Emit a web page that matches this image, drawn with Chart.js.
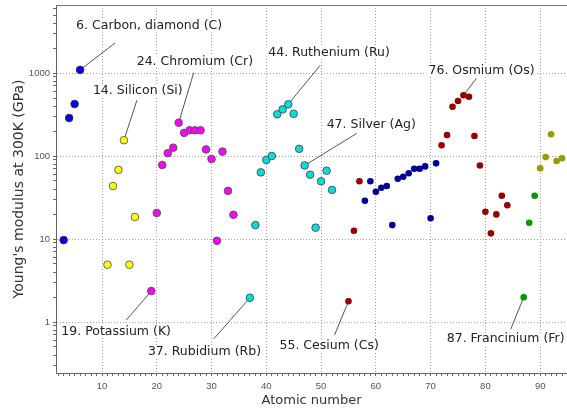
<!DOCTYPE html>
<html>
<head>
<meta charset="utf-8">
<script src="https://cdn.jsdelivr.net/npm/chart.js@4.4.1/dist/chart.umd.min.js"></script>
<style>
  html, body { margin: 0; padding: 0; background: #fff; }
  #wrap { width: 567px; height: 410px; }
</style>
</head>
<body>
<div id="wrap"><canvas id="chart" width="567" height="410"></canvas></div>
<script>
// atomic number (Z) and Young's modulus in GPa, one pair of arrays per colour group
const period2Z = [3, 4, 5, 6];
const period2E = [9.7, 287, 423, 1090];

const period3Z = [11, 12, 13, 14, 15, 16];
const period3E = [4.9, 43.5, 68, 155, 4.9, 18.4];

const period4Z = [19, 20, 21, 22, 23, 24, 25, 26, 27, 28, 29, 30, 31, 32, 33, 34];
const period4E = [2.36, 20.6, 78, 108, 126, 252, 190, 204, 204, 204, 120, 92, 9.5, 113, 38, 19.6];

const period5Z = [37, 38, 39, 40, 41, 42, 43, 44, 45, 46, 47, 48, 49, 50, 51, 52];
const period5E = [1.96, 14.7, 63.5, 89.7, 100, 318, 365, 420, 323, 122, 77, 59.5, 13.7, 49.6, 66.5, 39];

const period6Z = [55, 56, 57, 72, 73, 74, 75, 76, 77, 78, 79, 80, 81, 82, 83, 84];
const period6E = [1.78, 12.6, 49.6, 135, 179, 393, 460, 539, 518, 174, 77, 21.3, 11.7, 19.8, 33.2, 25.5];

const lanthanideZ = [58, 59, 60, 61, 62, 63, 64, 65, 66, 67, 68, 69, 70, 71];
const lanthanideE = [28.9, 49.6, 37, 41.5, 43.5, 14.7, 53.3, 56.3, 61.9, 70.3, 70.3, 75, 17.8, 81.6];

const period7Z = [87, 88, 89];
const period7E = [1.99, 15.7, 33.2];

const actinideZ = [90, 91, 92, 93, 94];
const actinideE = [71, 97, 183, 87, 94];

const xTickLabels = [10, 20, 30, 40, 50, 60, 70, 80, 90];
const yTickLabels = [1, 10, 100, 1000];

const calloutZ = [6, 14, 24, 44, 47, 76, 19, 37, 55, 87];
const calloutText = [
  '6. Carbon, diamond (C)', '14. Silicon (Si)', '24. Chromium (Cr)', '44. Ruthenium (Ru)',
  '47. Silver (Ag)', '76. Osmium (Os)', '19. Potassium (K)', '37. Rubidium (Rb)',
  '55. Cesium (Cs)', '87. Francinium (Fr)'
];
// leader line end (lx, ly) and text start (tx, ty) relative to the marked point, in px
const calloutOffsets = [
  [35, -27, -4, -44], [13, -40, -31, -49], [15, -50, -42, -61], [32, -39, -20, -52],
  [52, -32, 22, -41], [13, -17, -35, -25], [-25, 29, -90, 41], [-36, 41, -102, 54],
  [-14, 34, -69, 45], [-13, 32, -77, 42]
];

const groups = [
  { z: period2Z, e: period2E, fill: '#0000ff', edge: '#333', r: 3.8, bw: 1 },
  { z: period3Z, e: period3E, fill: '#ffff00', edge: '#666', r: 3.8, bw: 1 },
  { z: period4Z, e: period4E, fill: '#ff00ff', edge: '#555', r: 3.8, bw: 1 },
  { z: period5Z, e: period5E, fill: '#00e0e0', edge: '#555', r: 3.8, bw: 1 },
  { z: period6Z, e: period6E, fill: '#990000', edge: '#990000', r: 3.3, bw: 0 },
  { z: lanthanideZ, e: lanthanideE, fill: '#000099', edge: '#000099', r: 3.3, bw: 0 },
  { z: period7Z, e: period7E, fill: '#009900', edge: '#009900', r: 3.3, bw: 0 },
  { z: actinideZ, e: actinideE, fill: '#999900', edge: '#999900', r: 3.3, bw: 0 },
];

const allZ = [].concat(...groups.map(g => g.z));
const allE = [].concat(...groups.map(g => g.e));

const datasets = groups.map(g => ({
  data: g.z.map((z, i) => ({ x: z, y: g.e[i] })),
  backgroundColor: g.fill,
  borderColor: g.edge,
  borderWidth: g.bw,
  pointRadius: g.r,
  pointHoverRadius: g.r,
}));

const X_MIN = 1.6, X_MAX = 94.9, Y_MIN = 0.243, Y_MAX = 6600;

function logTicks() {
  const out = [];
  [0.1, 1, 10, 100, 1000].forEach(d => {
    for (let m = 1; m <= 9; m++) {
      const v = +(m * d).toPrecision(3);
      if (v >= Y_MIN && v <= Y_MAX) out.push({ value: v });
    }
  });
  return out;
}

const calloutPlugin = {
  id: 'callouts',
  beforeDatasetsDraw(chart) {
    const { ctx, scales: { x, y } } = chart;
    ctx.save();
    ctx.font = '12.5px "DejaVu Sans"';
    ctx.textBaseline = 'middle';
    calloutZ.forEach((z, i) => {
      const e = allE[allZ.indexOf(z)];
      const [lx, ly, tx, ty] = calloutOffsets[i];
      const px = x.getPixelForValue(z);
      const py = y.getPixelForValue(e);
      ctx.strokeStyle = '#555';
      ctx.lineWidth = 1;
      ctx.beginPath();
      ctx.moveTo(px, py);
      ctx.lineTo(px + lx, py + ly);
      ctx.stroke();
      const w = ctx.measureText(calloutText[i]).width;
      ctx.fillStyle = '#fff';
      ctx.fillRect(px + tx - 2, py + ty - 6, w + 4, 12);
      ctx.fillStyle = '#222';
      ctx.fillText(calloutText[i], px + tx, py + ty);
    });
    ctx.restore();
  },
  afterDraw(chart) {
    const { ctx, chartArea } = chart;
    ctx.save();
    ctx.strokeStyle = '#777';
    ctx.lineWidth = 1;
    ctx.beginPath();
    ctx.moveTo(chartArea.left, chartArea.top + 0.5);
    ctx.lineTo(chartArea.right, chartArea.top + 0.5);
    ctx.stroke();
    ctx.restore();
  }
};

new Chart(document.getElementById('chart'), {
  type: 'scatter',
  data: { datasets },
  plugins: [calloutPlugin],
  options: {
    responsive: false,
    animation: false,
    events: [],
    layout: { autoPadding: false, padding: { top: 5, right: 0, bottom: 0, left: 0 } },
    plugins: { legend: { display: false }, tooltip: { enabled: false } },
    scales: {
      x: {
        type: 'linear',
        min: X_MIN,
        max: X_MAX,
        afterFit: s => {
          s.height = 37;
          s.paddingLeft = 0;
          s.paddingRight = 0;
        },
        afterBuildTicks: s => {
          const t = [];
          for (let v = 2; v <= 94; v++) t.push({ value: v });
          s.ticks = t;
        },
        ticks: {
          autoSkip: false,
          maxRotation: 0,
          padding: 5,
          color: '#555',
          font: { family: 'Liberation Sans', size: 9.5 },
          callback: v => xTickLabels.includes(v) ? String(v) : '',
        },
        grid: {
          color: c => (c.tick && xTickLabels.includes(c.tick.value)) ? '#a0a0a0' : 'rgba(0,0,0,0)',
          tickColor: '#666',
          tickLength: 3,
          drawTicks: true,
        },
        border: { display: true, color: '#666', width: 1, dash: [1, 2] },
        title: {
          display: true,
          text: 'Atomic number',
          color: '#333',
          font: { family: 'DejaVu Sans', size: 13 },
          padding: { top: 0, bottom: 2 },
        },
      },
      y: {
        type: 'logarithmic',
        min: Y_MIN,
        max: Y_MAX,
        afterFit: s => {
          s.width = 56;
          s.paddingTop = 0;
          s.paddingBottom = 0;
        },
        afterBuildTicks: s => { s.ticks = logTicks(); },
        ticks: {
          autoSkip: false,
          padding: 3,
          color: '#555',
          font: { family: 'Liberation Sans', size: 9.5 },
          callback: v => yTickLabels.includes(v) ? String(v) : '',
        },
        grid: {
          color: c => (c.tick && yTickLabels.includes(c.tick.value)) ? '#a0a0a0' : 'rgba(0,0,0,0)',
          tickColor: '#666',
          tickLength: 3,
          drawTicks: true,
        },
        border: { display: true, color: '#666', width: 1, dash: [1, 2] },
        title: {
          display: true,
          text: "Young's modulus at 300K (GPa)",
          color: '#333',
          font: { family: 'DejaVu Sans', size: 14 },
          padding: { top: 11, bottom: 0 },
        },
      },
    },
  },
});
</script>
</body>
</html>
